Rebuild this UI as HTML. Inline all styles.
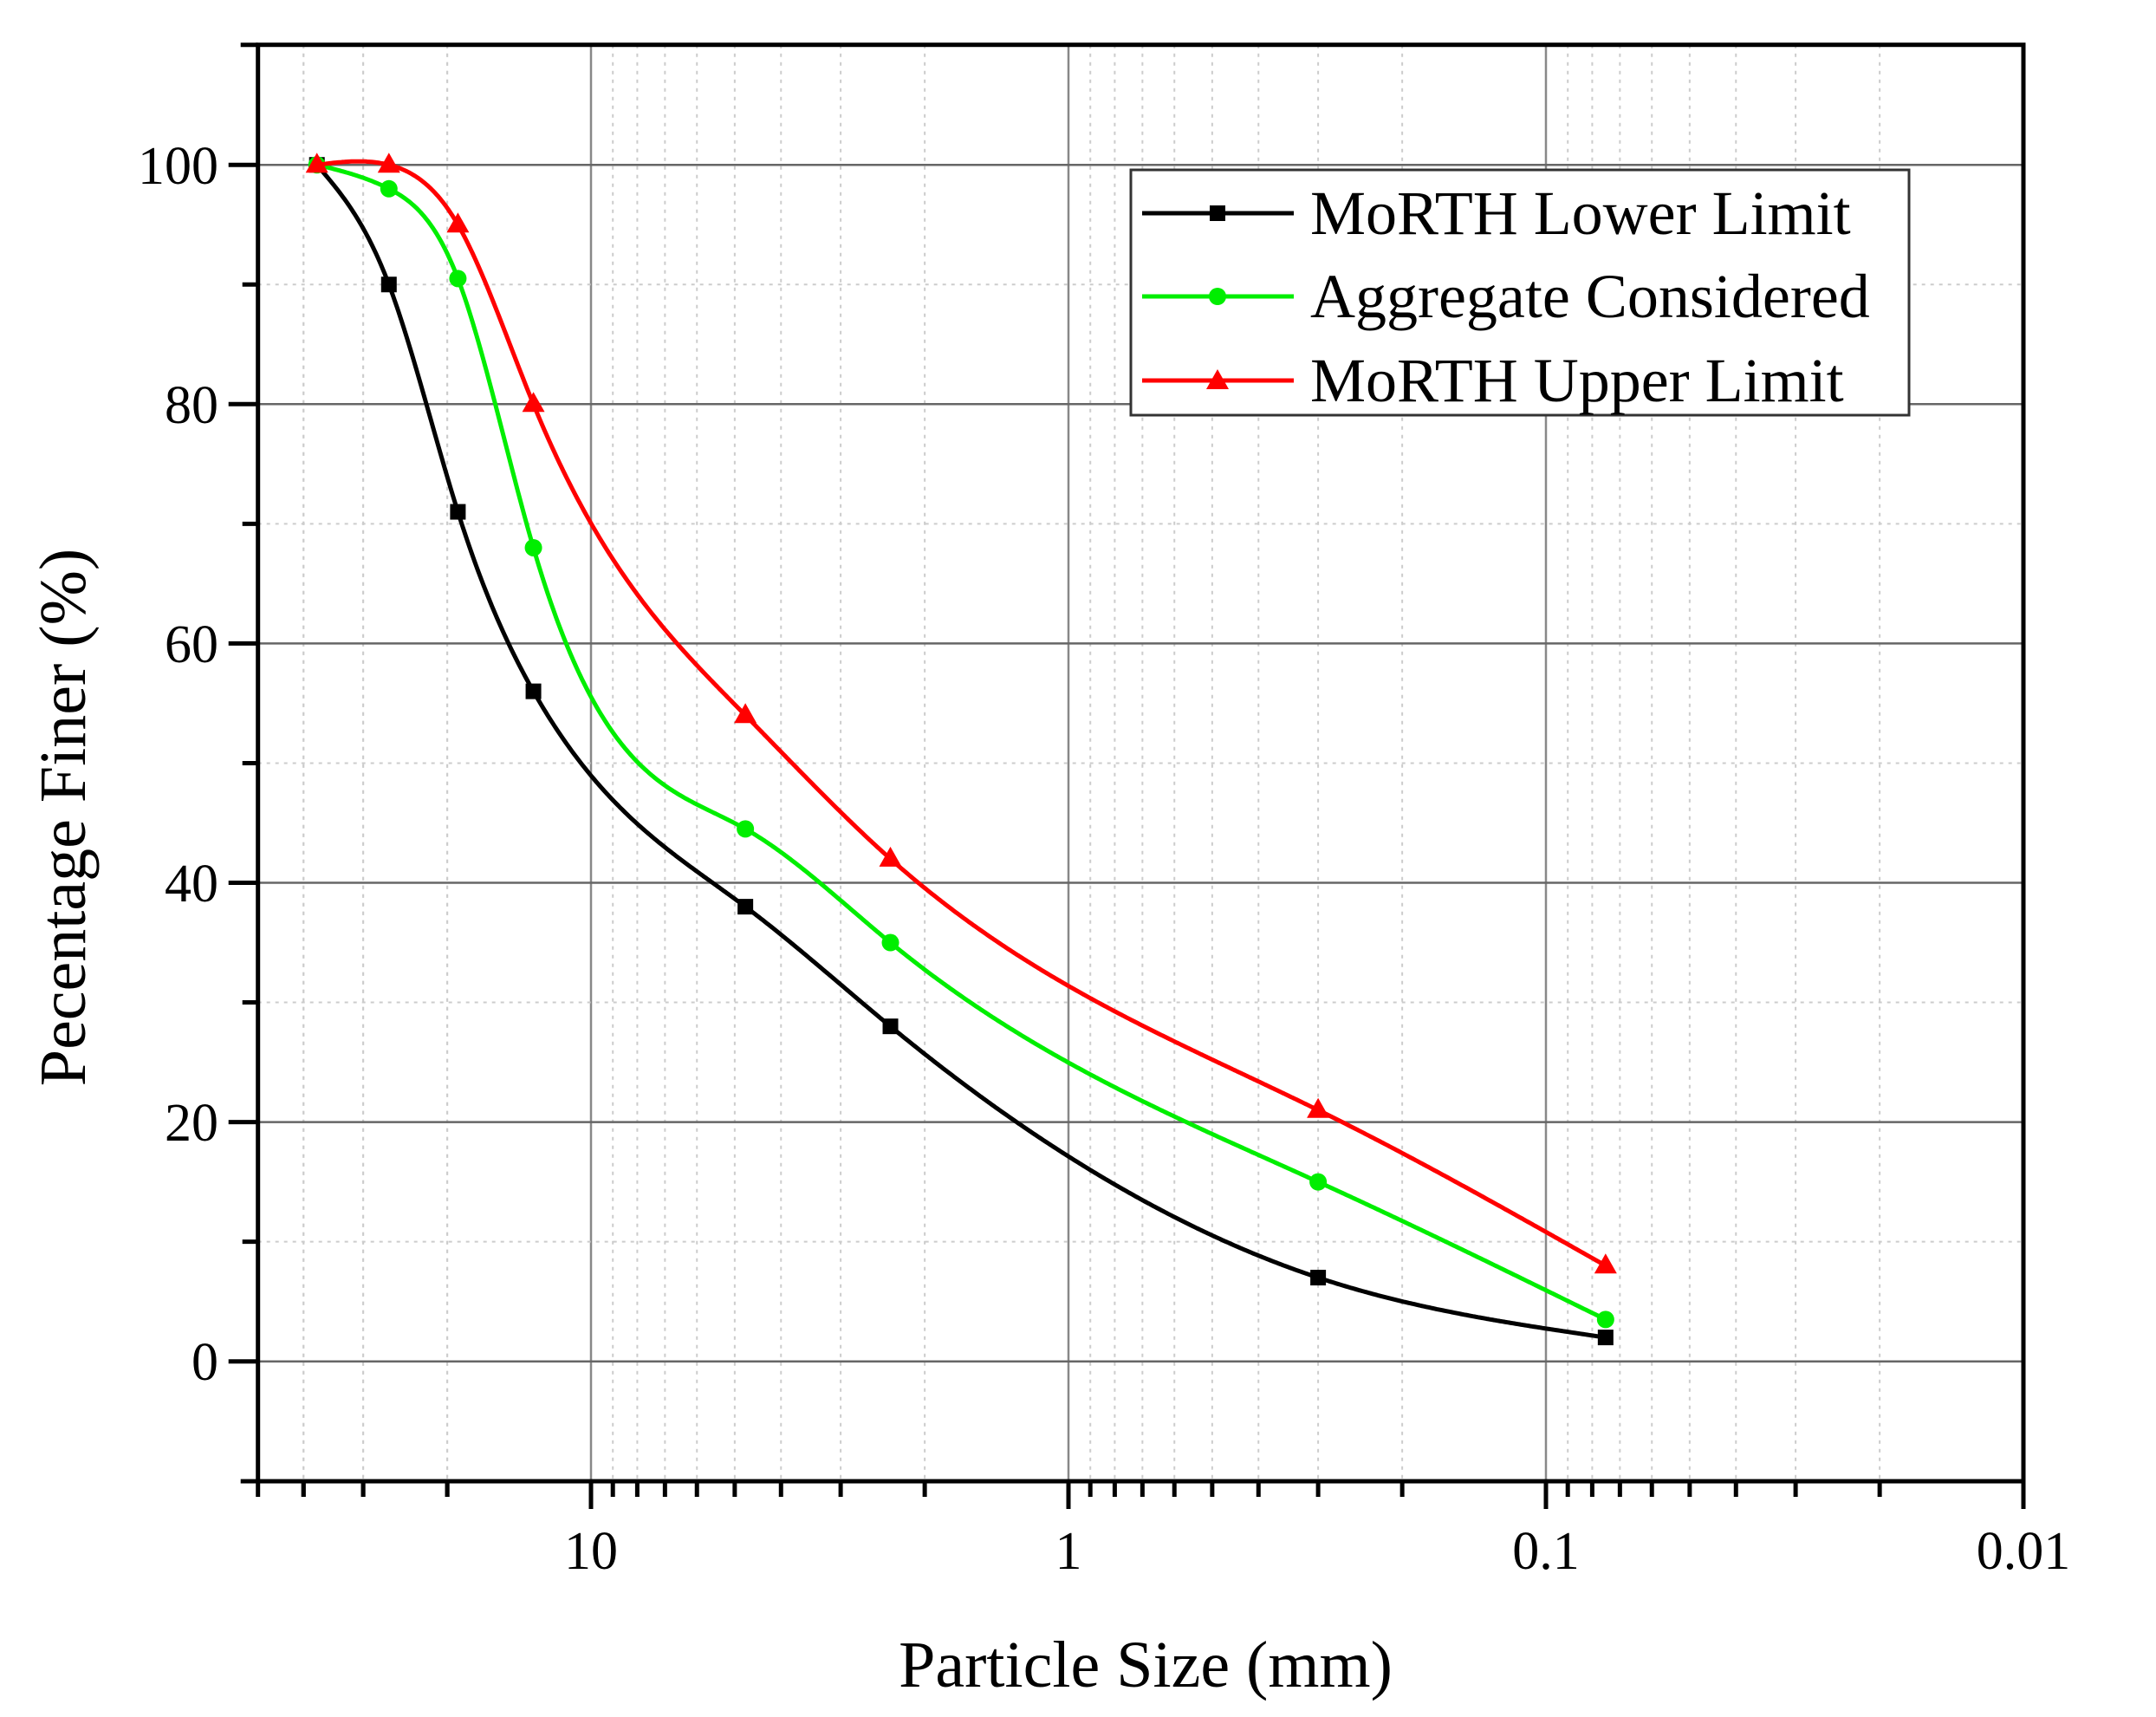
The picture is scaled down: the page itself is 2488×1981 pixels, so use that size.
<!DOCTYPE html>
<html><head><meta charset="utf-8"><style>
html,body{margin:0;padding:0;background:#fff;}
svg{display:block;font-family:"Liberation Serif",serif;}
</style></head><body>
<svg id="c" width="2488" height="1981" viewBox="0 0 2488 1981" xmlns="http://www.w3.org/2000/svg">
<g id="grid"></g>
<g id="axes"></g>
<g id="series"></g>
<g id="labels" font-size="62" fill="#000">
<text x="252" y="1592" text-anchor="end">0</text>
<text x="252" y="1316" text-anchor="end">20</text>
<text x="252" y="1040" text-anchor="end">40</text>
<text x="252" y="764" text-anchor="end">60</text>
<text x="252" y="488" text-anchor="end">80</text>
<text x="252" y="212" text-anchor="end">100</text>
<text x="682" y="1810" text-anchor="middle">10</text>
<text x="1233" y="1810" text-anchor="middle">1</text>
<text x="1784" y="1810" text-anchor="middle">0.1</text>
<text x="2335" y="1810" text-anchor="middle">0.01</text>
</g>
<text x="1322" y="1946" text-anchor="middle" font-size="76">Particle Size (mm)</text>
<text transform="translate(98,943) rotate(-90)" text-anchor="middle" font-size="76">Pecentage Finer (%)</text>
<g id="legend">
<rect x="1305" y="196" width="898" height="283" fill="#fff" stroke="#333" stroke-width="3"/>
<line x1="1318" y1="246" x2="1493" y2="246" stroke="#000" stroke-width="5"/>
<rect x="1396" y="237" width="18" height="18" fill="#000"/>
<line x1="1318" y1="342" x2="1493" y2="342" stroke="#00ee00" stroke-width="5"/>
<circle cx="1405" cy="342" r="10" fill="#00ee00"/>
<line x1="1318" y1="439" x2="1493" y2="439" stroke="#ff0000" stroke-width="5"/>
<polygon points="1405,426 1418,449 1392,449" fill="#ff0000"/>
<text x="1512" y="270" font-size="72">MoRTH Lower Limit</text>
<text x="1512" y="366" font-size="72">Aggregate Considered</text>
<text x="1512" y="463" font-size="72">MoRTH Upper Limit</text>
</g>
</svg>
<script>
(function(){
var NS="http://www.w3.org/2000/svg";
var L=297.7,R=2335,T=51.7,B=1709;
function X(v){return 682+(1-Math.log10(v))*551;}
function Y(v){return 1570.7-v*13.805;}
function el(p,tag,a){var e=document.createElementNS(NS,tag);for(var k in a)e.setAttribute(k,a[k]);p.appendChild(e);return e;}
var g=document.getElementById('grid'),ax=document.getElementById('axes'),s=document.getElementById('series');
for(var d=-2;d<=1;d++){for(var m=1;m<=9;m++){var v=m*Math.pow(10,d);var x=X(v);if(x<L+2||x>R+1)continue;
 if(m==1){el(g,'line',{x1:x,y1:T,x2:x,y2:B,stroke:'#888','stroke-width':2.5});
  el(ax,'line',{x1:x,y1:B,x2:x,y2:B+32,stroke:'#000','stroke-width':5});}
 else{el(g,'line',{x1:x,y1:T,x2:x,y2:B,stroke:'#ccc','stroke-width':2,'stroke-dasharray':'4,6'});
  el(ax,'line',{x1:x,y1:B,x2:x,y2:B+18,stroke:'#000','stroke-width':5});}
}}
for(var m=2;m<=4;m++){var x=X(m*10);el(g,'line',{x1:x,y1:T,x2:x,y2:B,stroke:'#ccc','stroke-width':2,'stroke-dasharray':'4,6'});el(ax,'line',{x1:x,y1:B,x2:x,y2:B+18,stroke:'#000','stroke-width':5});}
el(ax,'line',{x1:L,y1:B,x2:L,y2:B+18,stroke:'#000','stroke-width':5});
for(var v=0;v<=100;v+=10){var y=Y(v);
 if(v%20==0){el(g,'line',{x1:L,y1:y,x2:R,y2:y,stroke:'#666','stroke-width':2.5});el(ax,'line',{x1:L-34,y1:y,x2:L,y2:y,stroke:'#000','stroke-width':5});}
 else{el(g,'line',{x1:L,y1:y,x2:R,y2:y,stroke:'#ccc','stroke-width':2,'stroke-dasharray':'4,6'});el(ax,'line',{x1:L-18,y1:y,x2:L,y2:y,stroke:'#000','stroke-width':5});}
}
el(ax,'rect',{x:L,y:T,width:R-L,height:B-T,fill:'none',stroke:'#000','stroke-width':5});
el(ax,'line',{x1:L-20,y1:B,x2:L,y2:B,stroke:'#000','stroke-width':5});
el(ax,'line',{x1:L-20,y1:T,x2:L,y2:T,stroke:'#000','stroke-width':5});
var xs=[37.5,26.5,19,13.2,4.75,2.36,0.3,0.075];
var data=[
 {c:'#000',m:'s',y:[100,90,71,56,38,28,7,2]},
 {c:'#00ee00',m:'c',y:[100,98,90.5,68,44.5,35,15,3.5]},
 {c:'#ff0000',m:'t',y:[100,100,95,80,54,42,21,8]}];
function spline(xv,yv){
 var n=xv.length,h=[],al=[],l=[1],mu=[0],z=[0],c=new Array(n).fill(0),b=[],dd=[];
 for(var i=0;i<n-1;i++)h[i]=xv[i+1]-xv[i];
 for(var i=1;i<n-1;i++)al[i]=3/h[i]*(yv[i+1]-yv[i])-3/h[i-1]*(yv[i]-yv[i-1]);
 for(var i=1;i<n-1;i++){l[i]=2*(xv[i+1]-xv[i-1])-h[i-1]*mu[i-1];mu[i]=h[i]/l[i];z[i]=(al[i]-h[i-1]*z[i-1])/l[i];}
 z[n-1]=0;c[n-1]=0;
 for(var j=n-2;j>=0;j--){c[j]=z[j]-mu[j]*c[j+1];b[j]=(yv[j+1]-yv[j])/h[j]-h[j]*(c[j+1]+2*c[j])/3;dd[j]=(c[j+1]-c[j])/(3*h[j]);}
 return function(x){var j=0;while(j<n-2&&x>xv[j+1])j++;var t=x-xv[j];return yv[j]+b[j]*t+c[j]*t*t+dd[j]*t*t*t;};
}
data.forEach(function(D){
 var px=xs.map(X),py=D.y.map(Y);
 var f=spline(px,py);var d='M'+px[0]+','+py[0];
 for(var x=px[0];x<=px[px.length-1];x+=2)d+=' L'+x.toFixed(1)+','+f(x).toFixed(1);
 d+=' L'+px[px.length-1]+','+py[py.length-1];
 el(s,'path',{d:d,fill:'none',stroke:D.c,'stroke-width':5,'stroke-linejoin':'round'});
 px.forEach(function(x,i){var y=py[i];
  if(D.m=='s')el(s,'rect',{x:x-9,y:y-9,width:18,height:18,fill:D.c});
  else if(D.m=='c')el(s,'circle',{cx:x,cy:y,r:10,fill:D.c});
  else el(s,'polygon',{points:x+','+(y-14)+' '+(x+13)+','+(y+9)+' '+(x-13)+','+(y+9),fill:D.c});
 });
});
})();
</script>
</body></html>
